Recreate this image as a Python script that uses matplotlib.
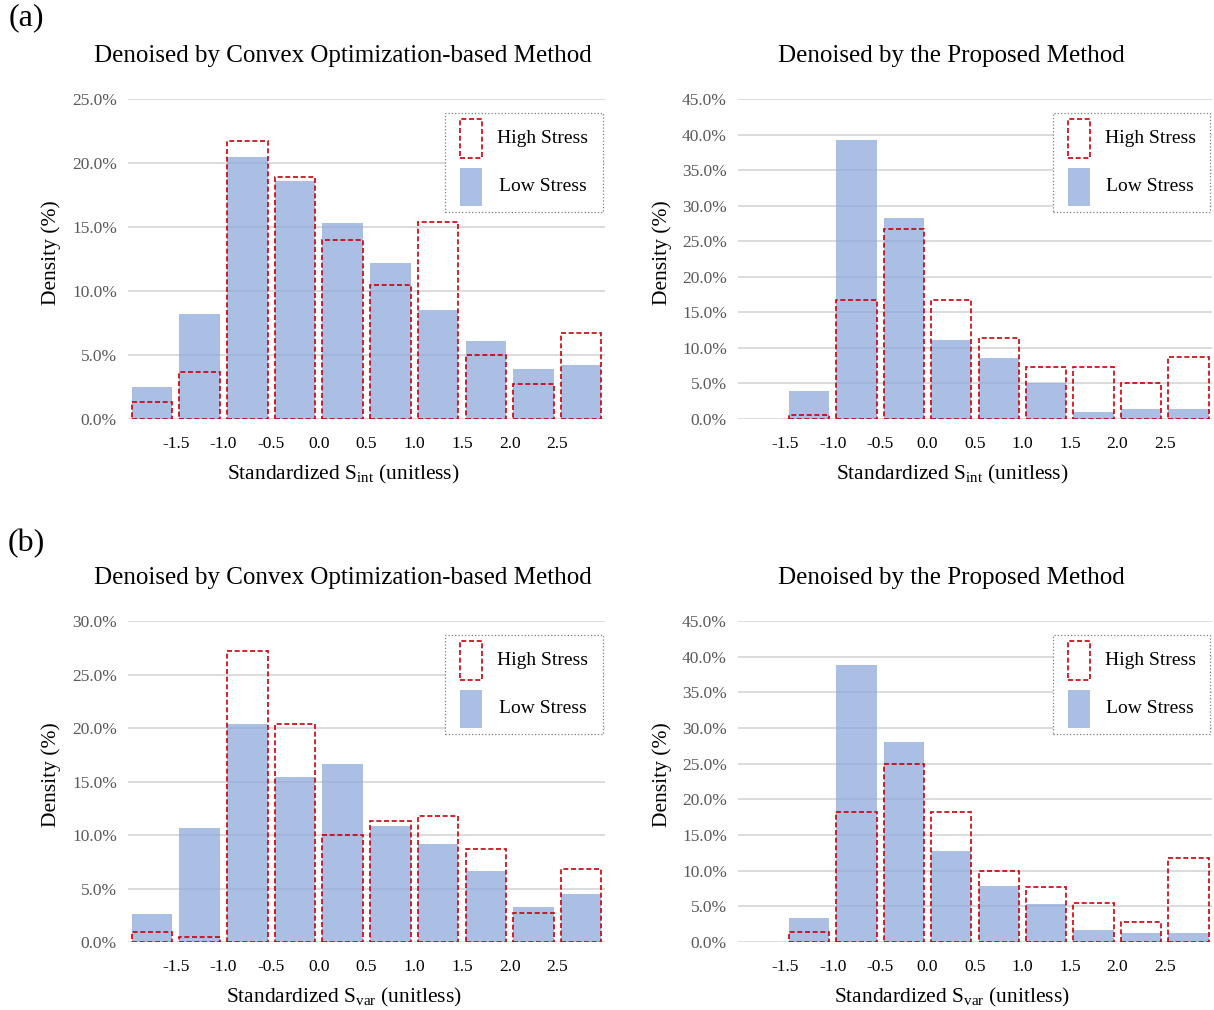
import numpy as np
import matplotlib
matplotlib.use("Agg")
import matplotlib.pyplot as plt
from matplotlib.patches import Rectangle
from matplotlib.ticker import FuncFormatter

plt.rcParams["font.family"] = ["Liberation Serif", "DejaVu Serif"]

# Histogram bins: (<-1.5), [-1.5,-1.0), ..., [2.5, ...)
bin_edges = ["-1.5", "-1.0", "-0.5", "0.0", "0.5", "1.0", "1.5", "2.0", "2.5"]

# Density (%) per bin
a_convex_low = [2.5, 8.2, 20.5, 18.6, 15.3, 12.2, 8.5, 6.1, 3.9, 4.2]
a_convex_high = [1.35, 3.7, 21.7, 18.95, 14.0, 10.45, 15.4, 5.0, 2.7, 6.75]
a_proposed_low = [0.0, 4.0, 39.3, 28.3, 11.1, 8.65, 5.1, 1.0, 1.4, 1.4]
a_proposed_high = [0.0, 0.5, 16.7, 26.7, 16.7, 11.4, 7.35, 7.35, 5.0, 8.7]

b_convex_low = [2.65, 10.7, 20.4, 15.4, 16.6, 10.8, 9.2, 6.65, 3.25, 4.5]
b_convex_high = [0.95, 0.45, 27.2, 20.4, 10.0, 11.3, 11.8, 8.65, 2.75, 6.85]
b_proposed_low = [0.0, 3.4, 38.8, 28.0, 12.7, 7.85, 5.3, 1.65, 1.3, 1.3]
b_proposed_high = [0.0, 1.45, 18.2, 24.9, 18.2, 10.0, 7.7, 5.5, 2.75, 11.85]

titles = ["Denoised by Convex Optimization-based Method",
          "Denoised by the Proposed Method"]

BLUE = "#8FAADC"
RED = "#C8000A"
GRID = "#D9D9D9"
DASH = (0, (3, 1.6))

fig = plt.figure(figsize=(12.14, 10.10), dpi=100)

panels = [
    # (left, bottom, width, height), low, high, ymax, xlabel var, title idx
    ((0.1054, 0.5851, 0.393, 0.3168), a_convex_low, a_convex_high, 25, "int", 0),
    ((0.6079, 0.5851, 0.3905, 0.3168), a_proposed_low, a_proposed_high, 45, "int", 1),
    ((0.1054, 0.0673, 0.393, 0.3178), b_convex_low, b_convex_high, 30, "var", 0),
    ((0.6079, 0.0673, 0.3905, 0.3178), b_proposed_low, b_proposed_high, 45, "var", 1),
]

x = np.arange(10)
for rect, low, high, ymax, var, ti in panels:
    ax = fig.add_axes(rect)
    ax.set_axisbelow(True)
    low = np.array(low)
    high = np.array(high)
    lo_m = low > 0
    hi_m = high > 0
    ax.bar(x[lo_m], low[lo_m], width=0.85, color=BLUE, alpha=0.75, linewidth=0)
    ax.bar(x[hi_m], high[hi_m], width=0.85, facecolor="none", edgecolor=RED,
           linewidth=1.2, linestyle=DASH)
    ax.set_xlim(-0.5, 9.5)
    ax.set_ylim(0, ymax)
    ax.set_yticks(np.arange(0, ymax + 0.1, 5))
    ax.yaxis.set_major_formatter(FuncFormatter(lambda v, p: f"{v:.1f}%"))
    ax.set_xticks(np.arange(9) + 0.5)
    ax.set_xticklabels(bin_edges)
    ax.grid(axis="y", color=GRID, linewidth=1.3)
    for s in ax.spines.values():
        s.set_visible(False)
    ax.tick_params(axis="both", length=0)
    ax.tick_params(axis="y", labelsize=12.5, labelcolor="#595959", pad=8)
    ax.tick_params(axis="x", labelsize=12.5, labelcolor="#000000", pad=12)
    ax.set_ylabel("Density (%)", fontsize=15.5)
    ax.yaxis.set_label_coords(-0.14, 0.52)
    ax.set_xlabel(r"Standardized $\mathregular{S_{" + var + r"}}$ (unitless)",
                  fontsize=15.5)
    ax.xaxis.set_label_coords(0.452, -0.137)

    # legend box drawn in axes coordinates
    tr = ax.transAxes
    ax.add_patch(Rectangle((0.665, 0.648), 0.33, 0.307, transform=tr,
                           facecolor="white", edgecolor="#7F7F7F",
                           linestyle=":", linewidth=0.9, zorder=5,
                           clip_on=False))
    ax.add_patch(Rectangle((0.696, 0.816), 0.046, 0.121, transform=tr,
                           facecolor="none", edgecolor=RED, linewidth=1.2,
                           linestyle=DASH, zorder=6, clip_on=False))
    ax.add_patch(Rectangle((0.696, 0.666), 0.046, 0.118, transform=tr,
                           facecolor=BLUE, alpha=0.75, linewidth=0,
                           zorder=6, clip_on=False))
    ax.text(0.774, 0.877, "High Stress", transform=tr, fontsize=14,
            ha="left", va="center", zorder=7)
    ax.text(0.777, 0.727, "Low Stress", transform=tr, fontsize=14,
            ha="left", va="center", zorder=7)

    cx = rect[0] + rect[2] * 0.45
    fig.text(cx, rect[1] + rect[3] + 0.043, titles[ti], fontsize=18,
             ha="center", va="center")

fig.text(0.0215, 0.982, "(a)", fontsize=23, ha="center", va="center")
fig.text(0.0215, 0.462, "(b)", fontsize=23, ha="center", va="center")

fig.savefig("out.png", dpi=100)
